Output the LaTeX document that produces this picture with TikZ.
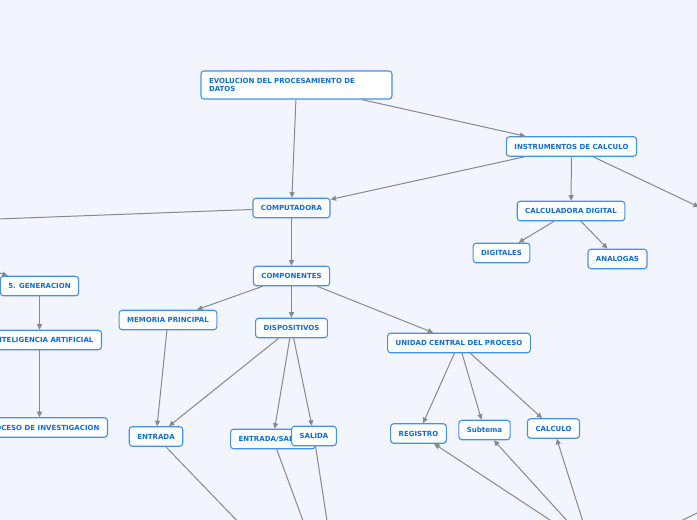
\documentclass[tikz,border=0pt]{standalone}
\usepackage{fontspec}
\setmainfont{DejaVu Sans}
\usetikzlibrary{arrows.meta}
\definecolor{fondo}{RGB}{242,245,254}
\definecolor{borde}{RGB}{66,146,234}
\definecolor{texto}{RGB}{16,108,214}
\definecolor{linea}{RGB}{136,136,142}
\tikzset{
  tema/.style={draw=borde,line width=1.1pt,fill=white,rounded corners=3pt,text=texto,
    font=\fontsize{7}{8.6}\selectfont\bfseries,inner xsep=8pt,minimum height=19.5pt},
  rama/.style={draw=linea,line width=1pt,-{Triangle[length=5.5pt,width=5pt]}},
  liga/.style={draw=linea,line width=1pt}
}
\begin{document}
\begin{tikzpicture}[x=1pt,y=-1pt]
  \fill[fondo] (0,0) rectangle (697,520);
  \clip (0,0) rectangle (697,520);
  % temas
  \node[tema,text width=175pt,align=left,minimum height=28pt] (evol) at (296.5,85) {EVOLUCION DEL PROCESAMIENTO DE\\DATOS};
  \node[tema] (instr) at (571.5,146.5) {INSTRUMENTOS DE CALCULO};
  \node[tema] (comp) at (291.5,208) {COMPUTADORA};
  \node[tema] (calc) at (571,211) {CALCULADORA DIGITAL};
  \node[tema] (digit) at (501.5,253) {DIGITALES};
  \node[tema] (analog) at (617.5,259) {ANALOGAS};
  \node[tema] (compon) at (291.5,276) {COMPONENTES};
  \node[tema] (gen5) at (39.5,286) {5. GENERACION};
  \node[tema] (mem) at (168,320) {MEMORIA PRINCIPAL};
  \node[tema] (disp) at (291.5,328) {DISPOSITIVOS};
  \node[tema] (ucp) at (459,343) {UNIDAD CENTRAL DEL PROCESO};
  \node[tema,anchor=east] (ia) at (102,340) {INTELIGENCIA ARTIFICIAL};
  \node[tema,anchor=east] (proc) at (108,427.5) {PROCESO DE INVESTIGACION};
  \node[tema] (entrada) at (156,436.5) {ENTRADA};
  \node[tema,anchor=west] (es) at (230,439) {ENTRADA/SALIDA};
  \node[tema] (salida) at (314,436) {SALIDA};
  \node[tema] (registro) at (418.5,433.5) {REGISTRO};
  \node[tema] (subtema) at (484.5,430) {Subtema};
  \node[tema] (calculo) at (553.5,428.5) {CALCULO};
  % puntos fuera del cuadro
  \coordinate (gp) at (-150,224.5);
  \coordinate (der) at (699,207);
  \coordinate (sur) at (344,632);
  \coordinate (bot) at (591,547);
  \coordinate (ne) at (720,501.5);
  \coordinate (so) at (650,536.5);
  % ramas
  \foreach \a/\b in {evol/comp,evol/instr,instr/comp,instr/calc,instr/der,calc/digit,calc/analog,
    comp/compon,gp/gen5,compon/mem,compon/disp,compon/ucp,mem/entrada,disp/entrada,disp/es,
    disp/salida,ucp/registro,ucp/subtema,ucp/calculo,bot/registro,bot/subtema,bot/calculo}
    \draw[rama] (\a) -- (\b);
  \draw[rama] (gen5.south) -- (gen5.south |- ia.north);
  \draw[rama] (gen5.south |- ia.south) -- (gen5.south |- proc.north);
  \foreach \a/\b in {comp/gp,entrada/sur,es/sur,salida/sur,ne/so}
    \draw[liga] (\a) -- (\b);
\end{tikzpicture}
\end{document}
